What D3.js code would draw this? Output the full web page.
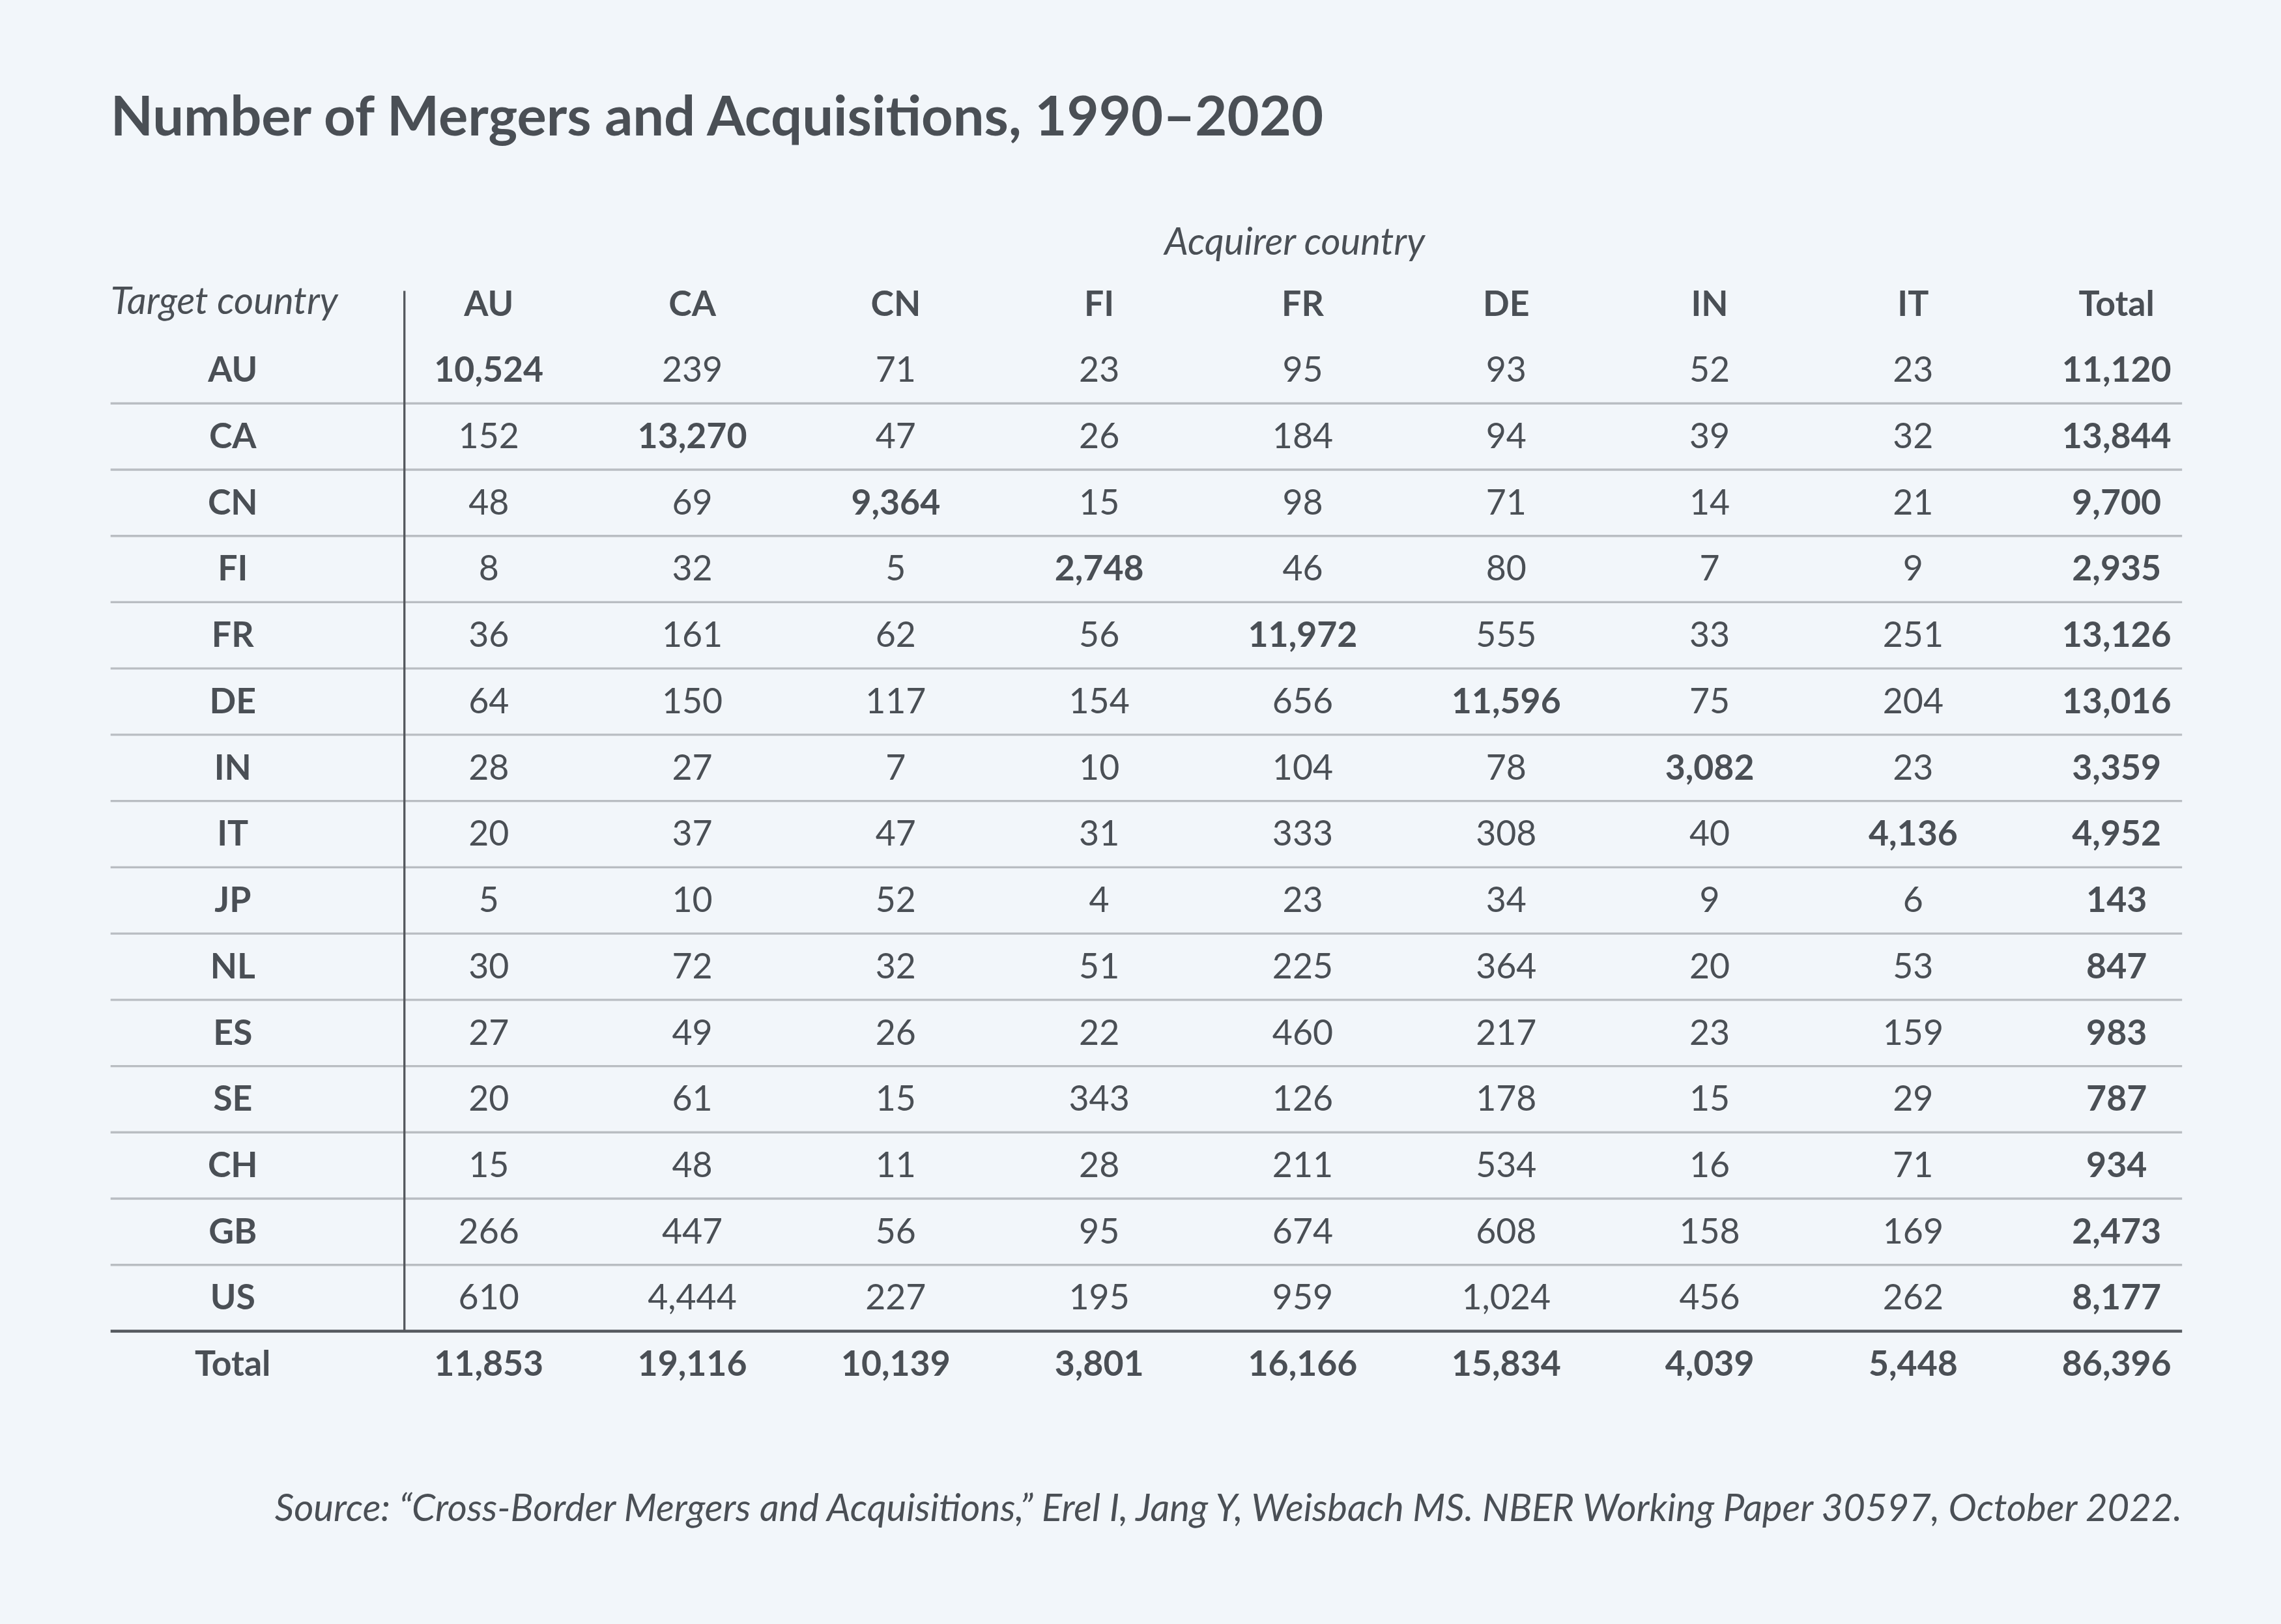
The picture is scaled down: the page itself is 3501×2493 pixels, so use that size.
<!DOCTYPE html>
<html>
<head>
<script src="https://d3js.org/d3.v7.min.js"></script>
<style>
  body { margin: 0; background: #f2f6fa; }
  text { font-family: Lato, "Noto Sans", sans-serif; fill: #4a4f55; }
</style>
</head>
<body>
<div id="chart"></div>
<script>
const acquirers = ['AU', 'CA', 'CN', 'FI', 'FR', 'DE', 'IN', 'IT', 'Total'];
const targets = ['AU', 'CA', 'CN', 'FI', 'FR', 'DE', 'IN', 'IT', 'JP', 'NL', 'ES', 'SE', 'CH', 'GB', 'US'];
const values = [
  [10524, 239, 71, 23, 95, 93, 52, 23, 11120],
  [152, 13270, 47, 26, 184, 94, 39, 32, 13844],
  [48, 69, 9364, 15, 98, 71, 14, 21, 9700],
  [8, 32, 5, 2748, 46, 80, 7, 9, 2935],
  [36, 161, 62, 56, 11972, 555, 33, 251, 13126],
  [64, 150, 117, 154, 656, 11596, 75, 204, 13016],
  [28, 27, 7, 10, 104, 78, 3082, 23, 3359],
  [20, 37, 47, 31, 333, 308, 40, 4136, 4952],
  [5, 10, 52, 4, 23, 34, 9, 6, 143],
  [30, 72, 32, 51, 225, 364, 20, 53, 847],
  [27, 49, 26, 22, 460, 217, 23, 159, 983],
  [20, 61, 15, 343, 126, 178, 15, 29, 787],
  [15, 48, 11, 28, 211, 534, 16, 71, 934],
  [266, 447, 56, 95, 674, 608, 158, 169, 2473],
  [610, 4444, 227, 195, 959, 1024, 456, 262, 8177]
];
const totals = [11853, 19116, 10139, 3801, 16166, 15834, 4039, 5448, 86396];

const W = 3501, H = 2493, k = W / 1568;
const svg = d3.select('#chart').append('svg').attr('width', W).attr('height', H);
svg.append('rect').attr('width', W).attr('height', H).attr('fill', '#f2f6fa');
const g = svg.append('g').attr('transform', `scale(${k})`);

g.append('text').attr('x', 76).attr('y', 93).attr('font-size', 38).attr('font-weight', 700)
  .text('Number of Mergers and Acquisitions, 1990\u20132020');

const x = d3.scalePoint().domain(acquirers).range([336, 1455]);
const rowsAll = ['hdr', ...targets, 'Total'];
const y = d3.scalePoint().domain(rowsAll).range([209, 938]);
const step = y.step();

g.append('text').attr('x', 890).attr('y', 175).attr('text-anchor', 'middle')
  .attr('font-size', 26).attr('font-style', 'italic').text('Acquirer country');
g.append('text').attr('x', 76).attr('y', 216).attr('font-size', 26).attr('font-style', 'italic')
  .text('Target country');

g.selectAll('.hd').data(acquirers).join('text')
  .attr('x', d => x(d)).attr('y', y('hdr') + 8).attr('text-anchor', 'middle')
  .attr('font-size', 24).attr('font-weight', 700).text(d => d);

g.selectAll('.sep').data(targets.slice(0, -1)).join('line')
  .attr('x1', 76).attr('x2', 1500)
  .attr('y1', d => y(d) + step / 2).attr('y2', d => y(d) + step / 2)
  .attr('stroke', '#b9bdc2').attr('stroke-width', 1.5);
g.append('line').attr('x1', 76).attr('x2', 1500)
  .attr('y1', y('US') + step / 2).attr('y2', y('US') + step / 2)
  .attr('stroke', '#55595e').attr('stroke-width', 2);
g.append('line').attr('x1', 278).attr('x2', 278).attr('y1', 200).attr('y2', y('US') + step / 2)
  .attr('stroke', '#55595e').attr('stroke-width', 1.5);

const fmt = d3.format(',');
const rows = g.selectAll('.row').data(targets).join('g')
  .attr('transform', d => `translate(0,${y(d) + 8})`);
rows.append('text').attr('x', 160).attr('text-anchor', 'middle').attr('font-size', 24)
  .attr('font-weight', 700).text(d => d);
rows.each(function (t, i) {
  d3.select(this).selectAll('.v').data(values[i]).join('text')
    .attr('x', (d, j) => x(acquirers[j])).attr('text-anchor', 'middle').attr('font-size', 24)
    .attr('font-weight', (d, j) => (j === i || j === 8) ? 700 : 400)
    .text(d => fmt(d));
});

const tr = g.append('g').attr('transform', `translate(0,${y('Total') + 8})`);
tr.append('text').attr('x', 160).attr('text-anchor', 'middle').attr('font-size', 24)
  .attr('font-weight', 700).text('Total');
tr.selectAll('.v').data(totals).join('text')
  .attr('x', (d, j) => x(acquirers[j])).attr('text-anchor', 'middle').attr('font-size', 24)
  .attr('font-weight', 700).text(d => fmt(d));

g.append('text').attr('x', 1500).attr('y', 1046).attr('text-anchor', 'end')
  .attr('font-size', 26).attr('font-style', 'italic').attr('fill', '#6a6f75')
  .text('Source: \u201cCross-Border Mergers and Acquisitions,\u201d Erel I, Jang Y, Weisbach MS. NBER Working Paper 30597, October 2022.');
</script>
</body>
</html>
